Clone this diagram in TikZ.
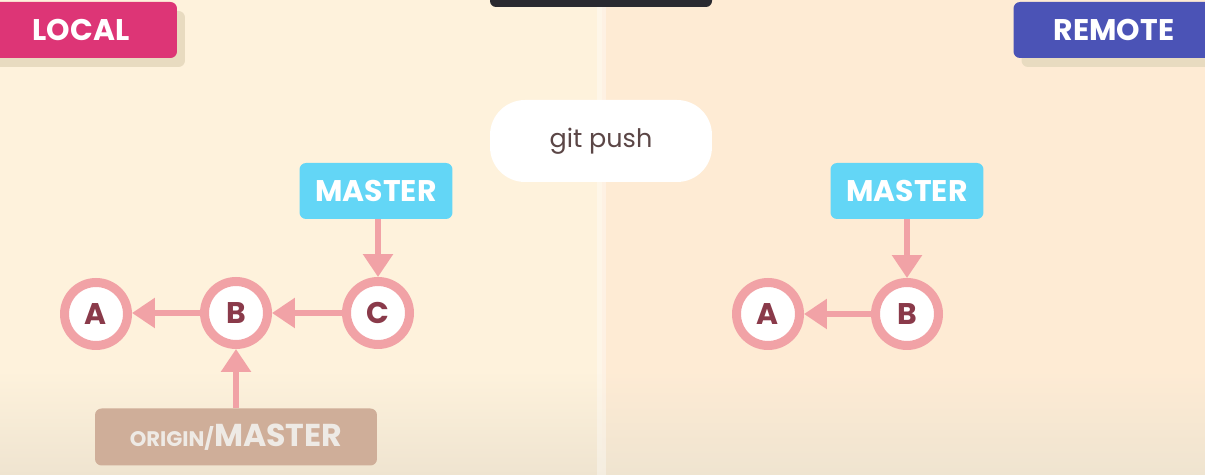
\documentclass[tikz,border=0pt]{standalone}
\usepackage{fontspec}
\setmainfont{Poppins}
\usetikzlibrary{arrows.meta,shadows}
\definecolor{bgleft}{HTML}{FEF2DC}
\definecolor{bgright}{HTML}{FEEBD4}
\definecolor{bgfoot}{HTML}{EFE4D0}
\definecolor{localpink}{HTML}{DD3576}
\definecolor{tagshadow}{HTML}{E8DBC0}
\definecolor{remoteblue}{HTML}{4B53B6}
\definecolor{mastercyan}{HTML}{63D6F6}
\definecolor{ringpink}{HTML}{F1A2A6}
\definecolor{letterred}{HTML}{8A3A4A}
\definecolor{origintan}{HTML}{CFAE99}
\definecolor{origintext}{HTML}{EEEAE5}
\definecolor{pushtext}{HTML}{5B4646}
\definecolor{barblack}{HTML}{2A2A30}
\begin{document}
\begin{tikzpicture}[x=0.02cm,y=-0.02cm,
    tagbox/.style={rounded corners=0.13cm,text=white,inner sep=0pt,
      minimum height=1.12cm,font=\fontsize{17}{17}\selectfont\bfseries},
    sidetag/.style={tagbox,drop shadow={shadow xshift=0.16cm,shadow yshift=-0.18cm,
      fill=tagshadow,opacity=1}},
    branch/.style={tagbox,fill=mastercyan,minimum width=3.06cm},
    commit/.style={circle,draw=ringpink,line width=0.18cm,fill=white,inner sep=0pt,
      minimum size=1.26cm,text=letterred,font=\fontsize{17}{17}\selectfont\bfseries},
    link/.style={draw=ringpink,line width=0.12cm,-{Triangle[length=0.46cm,width=0.58cm]}}]
  % background halves
  \useasboundingbox (0,0) rectangle (1205,475);
  \fill[bgleft] (0,0) rectangle (602,475);
  \fill[bgright] (602,0) rectangle (1205,475);
  \shade[top color=bgleft,bottom color=bgfoot] (0,370) rectangle (602,475);
  \shade[top color=bgright,bottom color=bgfoot] (602,370) rectangle (1205,475);
  \fill[white,opacity=0.35] (597,0) rectangle (606,475);
  \fill[barblack,rounded corners=0.12cm] (490,-10) rectangle (712,7);

  % side tags
  \node[sidetag,fill=localpink,minimum width=3.84cm] (local) at (81,30) {LOCAL};
  \node[sidetag,fill=remoteblue,minimum width=4.02cm] (remote) at (1114,30) {REMOTE};

  % command
  \node[fill=white,rounded corners=0.7cm,minimum width=4.44cm,minimum height=1.64cm,
    text=pushtext,font=\fontsize{14.5}{14.5}\selectfont] (push) at (601,141) {git push};

  % local repository
  \node[commit] (lA) at (96,314) {A};
  \node[commit] (lB) at (236,313) {B};
  \node[commit] (lC) at (378,313) {C};
  \node[branch] (lmaster) at (376,191) {MASTER};
  \node[tagbox,fill=origintan,minimum width=5.64cm,minimum height=1.14cm,text=origintext]
    (origin) at (236,437) {\fontsize{12}{12}\selectfont ORIGIN/\fontsize{18}{18}\selectfont MASTER};
  \draw[link] (lC) -- (lB);
  \draw[link] (lB) -- (lB -| lA.east);
  \draw[link] (lmaster.south -| lC) -- (lC);
  \draw[link] (origin.north -| lB) -- (lB);

  % remote repository
  \node[commit] (rA) at (768,314) {A};
  \node[commit] (rB) at (907,314) {B};
  \node[branch] (rmaster) at (907,191) {MASTER};
  \draw[link] (rB) -- (rA);
  \draw[link] (rmaster) -- (rB);
\end{tikzpicture}
\end{document}
